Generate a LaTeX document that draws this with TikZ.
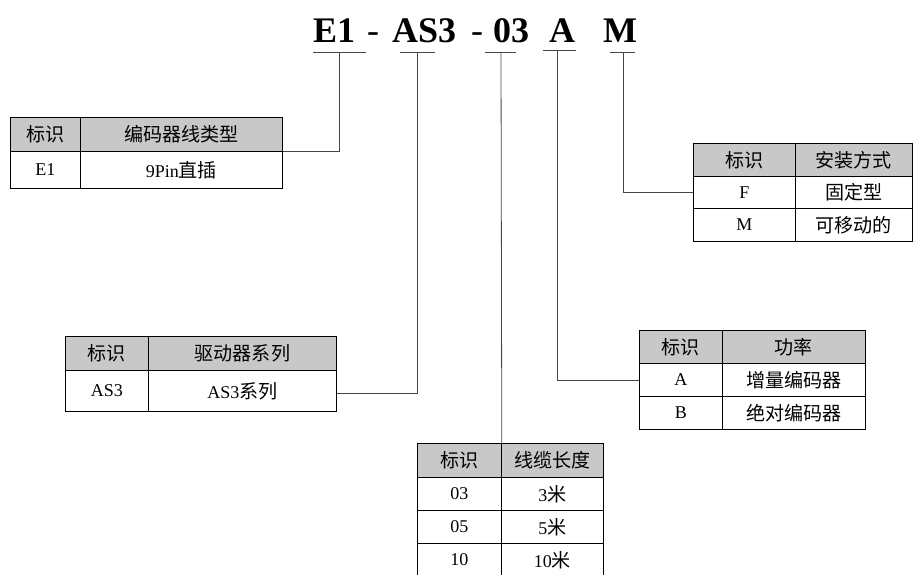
\documentclass[tikz,border=0pt]{standalone}
\usepackage{fontspec}
\setmainfont{Liberation Serif}
\newfontfamily\cjk[Scale=1.06]{Noto Sans CJK SC}
\definecolor{hdgray}{RGB}{200,200,200}
\definecolor{conncol}{RGB}{70,70,70}
\begin{document}
\begin{tikzpicture}[x=1pt,y=-1pt,
  cell/.style={draw=black, line width=0.8pt, anchor=north west, inner sep=0pt,
    font=\fontsize{18}{21}\selectfont, text=black},
  hd/.style={cell, fill=hdgray},
  ttl/.style={anchor=base west, inner sep=0pt, font=\fontsize{36}{40}\selectfont\bfseries},
  dsh/.style={anchor=base west, inner sep=0pt, font=\fontsize{36}{40}\selectfont},
  conn/.style={draw=conncol, line width=0.8pt}]
\useasboundingbox (0,0) rectangle (914,574);
% title
\node[ttl] (tE) at (313,42) {E1};
\node[dsh] (d1) at (367,42) {-};
\node[ttl] (tAS) at (392,42) {AS3};
\node[dsh] (d2) at (471,42) {-};
\node[ttl] (t03) at (493,42) {03};
\node[ttl] (tA) at (549,42) {A};
\node[ttl] (tM) at (603,42) {M};
% underline coordinates
\coordinate (uE) at (339,52);
\coordinate (uAS) at (417,52);
\coordinate (u03) at (501,52);
\coordinate (uA) at (557,50);
\coordinate (uM) at (623,52);
\draw[conn] ([xshift=-26]uE) -- ([xshift=27]uE);
\draw[conn] ([xshift=-17]uAS) -- ([xshift=18]uAS);
\draw[conn] ([xshift=-16]u03) -- ([xshift=15]u03);
\draw[conn] ([xshift=-14]uA) -- ([xshift=19]uA);
\draw[conn] ([xshift=-13]uM) -- ([xshift=12]uM);
% table E1
\node[hd, minimum width=70, minimum height=34] (e1h1) at (10,117) {\cjk 标识};
\node[hd, minimum width=202, minimum height=34] (e1h2) at (80,117) {\cjk 编码器线类型};
\node[cell, minimum width=70, minimum height=37] (e1b1) at (10,151) {E1};
\node[cell, minimum width=202, minimum height=37] (e1b2) at (80,151) {9Pin{\cjk 直插}};
% table M
\node[hd, minimum width=102, minimum height=33] (mh1) at (693,143) {\cjk 标识};
\node[hd, minimum width=117, minimum height=33] (mh2) at (795,143) {\cjk 安装方式};
\node[cell, minimum width=102, minimum height=32] (mb1) at (693,176) {F};
\node[cell, minimum width=117, minimum height=32] (mb2) at (795,176) {\cjk 固定型};
\node[cell, minimum width=102, minimum height=33] (mc1) at (693,208) {M};
\node[cell, minimum width=117, minimum height=33] (mc2) at (795,208) {\cjk 可移动的};
% table AS3
\node[hd, minimum width=83, minimum height=34] (ash1) at (65,336) {\cjk 标识};
\node[hd, minimum width=188, minimum height=34] (ash2) at (148,336) {\cjk 驱动器系列};
\node[cell, minimum width=83, minimum height=41] (asb1) at (65,370) {AS3};
\node[cell, minimum width=188, minimum height=41] (asb2) at (148,370) {AS3{\cjk 系列}};
% table A
\node[hd, minimum width=83, minimum height=33] (ah1) at (639,330) {\cjk 标识};
\node[hd, minimum width=143, minimum height=33] (ah2) at (722,330) {\cjk 功率};
\node[cell, minimum width=83, minimum height=33] (ab1) at (639,363) {A};
\node[cell, minimum width=143, minimum height=33] (ab2) at (722,363) {\cjk 增量编码器};
\node[cell, minimum width=83, minimum height=33] (ac1) at (639,396) {B};
\node[cell, minimum width=143, minimum height=33] (ac2) at (722,396) {\cjk 绝对编码器};
% table 03
\node[hd, minimum width=84, minimum height=34] (lh1) at (417,443) {\cjk 标识};
\node[hd, minimum width=102, minimum height=34] (lh2) at (501,443) {\cjk 线缆长度};
\node[cell, minimum width=84, minimum height=33] (lb1) at (417,477) {03};
\node[cell, minimum width=102, minimum height=33] (lb2) at (501,477) {3{\cjk 米}};
\node[cell, minimum width=84, minimum height=33] (lc1) at (417,510) {05};
\node[cell, minimum width=102, minimum height=33] (lc2) at (501,510) {5{\cjk 米}};
\node[cell, minimum width=84, minimum height=33] (ld1) at (417,543) {10};
\node[cell, minimum width=102, minimum height=33] (ld2) at (501,543) {10{\cjk 米}};
% connectors
\draw[conn] (uE) -- (uE |- e1h2.south east) -- (e1h2.south east);
\draw[conn] (uAS) -- ([yshift=-2]uAS |- asb2.east) -- ([yshift=-2]asb2.east);
\draw[conn] (u03) -- (lh1.north east);
\draw[conn] (uA) -- (uA |- ab1.west) -- (ab1.west);
\draw[conn] (uM) -- (uM |- mb1.west) -- (mb1.west);
\end{tikzpicture}
\end{document}
